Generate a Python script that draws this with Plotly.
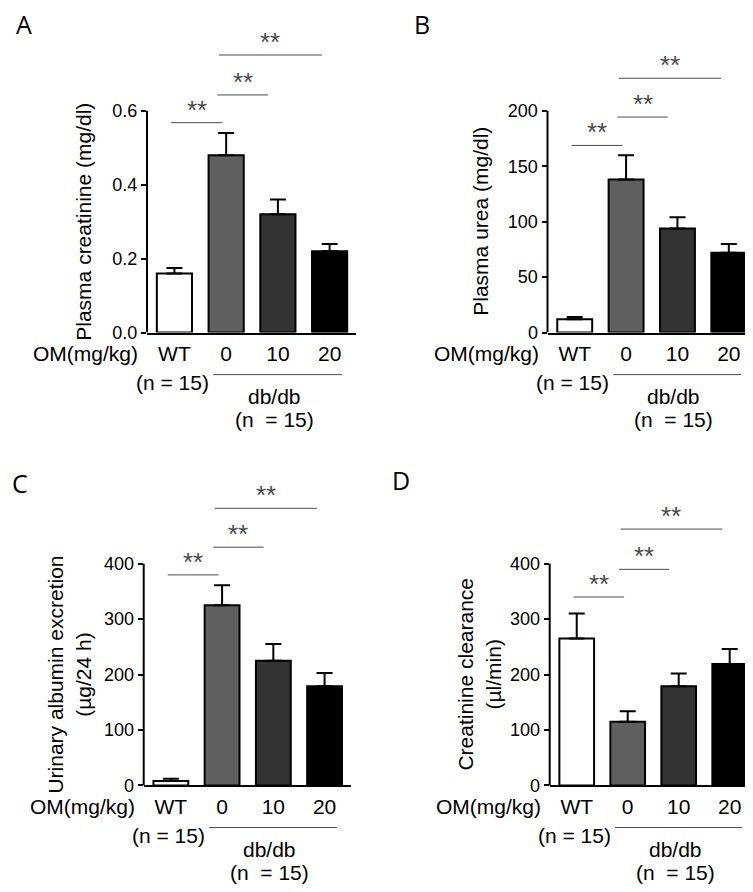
import plotly.graph_objects as go

W, H = 753, 892

# ---------------- data ----------------
categories = ["WT", "0", "10", "20"]
bar_colors = ["#ffffff", "#5f5f5f", "#333333", "#000000"]

creatinine_mean = [0.16, 0.48, 0.32, 0.22]
creatinine_sem = [0.015, 0.06, 0.04, 0.02]

urea_mean = [12, 138, 94, 72]
urea_sem = [2, 22, 10, 8]

albumin_mean = [8, 325, 225, 179]
albumin_sem = [4, 36, 30, 24]

clearance_mean = [265, 115, 179, 219]
clearance_sem = [45, 19, 23, 27]

# significance comparisons (category index pairs) and bracket heights in data units
sig_pairs = [(0, 1), (1, 2), (1, 3)]
sig_label = "**"
sig_heights_A = [0.568, 0.643, 0.751]
sig_heights_B = [168.8, 194.4, 229.4]
sig_heights_C = [379.8, 429.8, 499.9]
sig_heights_D = [339.9, 389.8, 462.4]

y_titles = ["Plasma creatinine (mg/dl)", "Plasma urea (mg/dl)",
            "Urinary albumin excretion<br>(µg/24 h)", "Creatinine clearance<br>(µl/min)"]
panel_letters = ["A", "B", "C", "D"]
group_label = "OM(mg/kg)"
wt_n = "(n = 15)"
dbdb_label = "db/db"
dbdb_n = "(n\u00a0 = 15)"

# ---------------- layout geometry (pixels) ----------------
panels = [
    dict(mean=creatinine_mean, sem=creatinine_sem, sig=sig_heights_A, tmax=0.6, dtick=0.2, fmt=".1f",
         left=139, right=348, y0=328.3, ytop=104, top=12, title_x=76, letter=(16, 16)),
    dict(mean=urea_mean, sem=urea_sem, sig=sig_heights_B, tmax=200, dtick=50, fmt="d",
         left=539.5, right=747, y0=328.3, ytop=104, top=12, title_x=473, letter=(414.5, 16)),
    dict(mean=albumin_mean, sem=albumin_sem, sig=sig_heights_C, tmax=400, dtick=100, fmt="d",
         left=135.7, right=342.7, y0=786.3, ytop=562, top=470, title_x=61, letter=(12, 480)),
    dict(mean=clearance_mean, sem=clearance_sem, sig=sig_heights_D, tmax=400, dtick=100, fmt="d",
         left=541.7, right=747.7, y0=786.3, ytop=562, top=470, title_x=471, letter=(393, 477)),
]

XMIN, XMAX = -0.53, 3.51
FONT = "Liberation Sans, Arial, Helvetica, sans-serif"
SIG_COLOR = "#4a4a4a"

fig = go.Figure()
layout = dict(width=W, height=H, margin=dict(l=0, r=0, t=0, b=0), autosize=False,
              plot_bgcolor="white", paper_bgcolor="white", showlegend=False,
              font=dict(family=FONT, color="black"))
shapes = []
annotations = []

xs = list(range(len(categories)))

for k, p in enumerate(panels):
    n = k + 1
    xa = "x" if n == 1 else f"x{n}"
    ya = "y" if n == 1 else f"y{n}"
    xkey = "xaxis" if n == 1 else f"xaxis{n}"
    ykey = "yaxis" if n == 1 else f"yaxis{n}"

    ext = p["tmax"] * (p["y0"] - p["top"]) / (p["y0"] - p["ytop"])

    fig.add_trace(go.Bar(
        x=xs, y=p["mean"], width=0.68, xaxis=xa, yaxis=ya,
        marker=dict(color=bar_colors, line=dict(color="black", width=2)),
        error_y=dict(type="data", symmetric=False, array=p["sem"], arrayminus=[0] * len(xs),
                     color="black", thickness=2, width=8),
        hoverinfo="skip",
    ))

    nt = int(round(p["tmax"] / p["dtick"]))
    tickvals = [i * p["dtick"] for i in range(nt + 1)]
    layout[xkey] = dict(domain=[p["left"] / W, p["right"] / W], range=[XMIN, XMAX], anchor=ya,
                        showline=True, linewidth=2, linecolor="black", ticks="",
                        tickvals=xs, ticktext=categories, tickfont=dict(size=21, family=FONT),
                        ticklabelstandoff=1, showgrid=False, zeroline=False, fixedrange=True)
    layout[ykey] = dict(domain=[1 - p["y0"] / H, 1 - p["top"] / H], range=[0, ext], anchor=xa,
                        showline=False, ticks="outside", ticklen=5, tickwidth=2, tickcolor="black",
                        tickvals=tickvals, tickformat=p["fmt"], tickfont=dict(size=18, family=FONT),
                        showgrid=False, zeroline=False, fixedrange=True)

    # y axis line from 0 to the top tick
    shapes.append(dict(type="line", xref=f"{xa} domain", yref=ya, x0=0, x1=0, y0=0, y1=p["tmax"],
                       line=dict(color="black", width=2)))

    # significance brackets
    offs = [(-0.06, -0.07), (-0.17, -0.19), (-0.14, -0.15)]
    for (i, j), h, (o0, o1) in zip(sig_pairs, p["sig"], offs):
        shapes.append(dict(type="line", xref=xa, yref=ya, x0=i + o0, x1=j + o1, y0=h, y1=h,
                           line=dict(color=SIG_COLOR, width=1)))
        annotations.append(dict(xref=xa, yref=ya, x=(i + o0 + j + o1) / 2, y=h, text=sig_label,
                                showarrow=False, yanchor="bottom", xanchor="center", yshift=-4,
                                font=dict(size=26, color=SIG_COLOR, family=FONT)))

    # group labels below the axis
    annotations.append(dict(xref=xa, yref=ya, x=XMIN, y=0, text=group_label, showarrow=False,
                            xanchor="right", yanchor="middle", xshift=-7, yshift=-21,
                            font=dict(size=21, family=FONT)))
    annotations.append(dict(xref=xa, yref=ya, x=0, y=0, text=wt_n, showarrow=False,
                            xanchor="center", yanchor="middle", xshift=-2, yshift=-50,
                            font=dict(size=21, family=FONT)))
    annotations.append(dict(xref=xa, yref=ya, x=1.93, y=0, text=dbdb_label, showarrow=False,
                            xanchor="center", yanchor="middle", yshift=-64,
                            font=dict(size=21, family=FONT)))
    annotations.append(dict(xref=xa, yref=ya, x=1.93, y=0, text=dbdb_n, showarrow=False,
                            xanchor="center", yanchor="middle", yshift=-87,
                            font=dict(size=21, family=FONT)))
    shapes.append(dict(type="line", xref=xa, yref=f"{ya} domain", ysizemode="pixel", yanchor=0,
                       x0=0.75, x1=3.24, y0=-42, y1=-42, line=dict(color=SIG_COLOR, width=1)))

    # y-axis title
    annotations.append(dict(xref="paper", yref="paper", x=p["title_x"] / W,
                            y=1 - ((p["y0"] + p["ytop"]) / 2) / H, text=y_titles[k], showarrow=False,
                            textangle=-90, xanchor="center", yanchor="middle",
                            font=dict(size=21, family=FONT)))
    # panel letter
    annotations.append(dict(xref="paper", yref="paper", x=p["letter"][0] / W, y=1 - p["letter"][1] / H,
                            text=panel_letters[k], showarrow=False, xanchor="center", yanchor="middle",
                            font=dict(size=25, family="Open Sans, DejaVu Sans, sans-serif")))

layout["shapes"] = shapes
layout["annotations"] = annotations
fig.update_layout(**layout)
fig.write_html("out.html")
